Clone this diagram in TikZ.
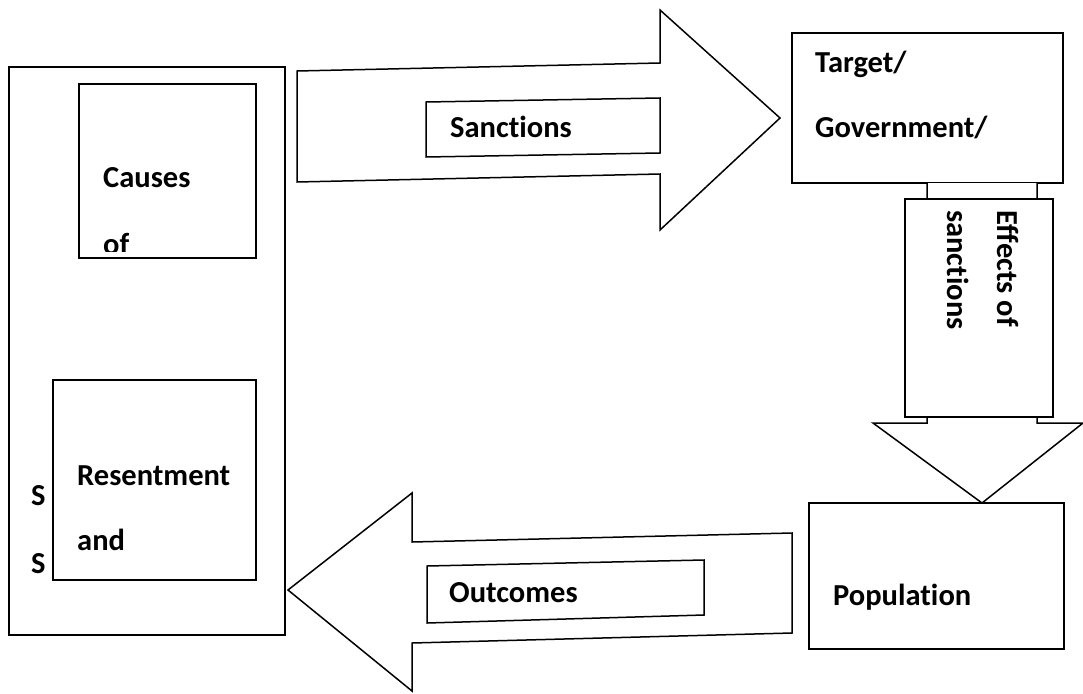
\documentclass[tikz,border=0pt]{standalone}
\usepackage{fontspec}
\setmainfont{Carlito}[Ligatures={NoCommon}]
\begin{document}
\begin{tikzpicture}[x=1pt,y=-1pt,
  box/.style={draw=black,line width=1.7pt,fill=white},
  blockarrow/.style={draw=black,line width=1.5pt,fill=white,line join=miter},
  lbl/.style={inner sep=0pt,anchor=base west,font=\fontsize{30.5}{36}\selectfont\bfseries}]
\useasboundingbox (0,0) rectangle (1083,693);
% left outer box
\draw[box] (9,67) rectangle (285,635);
\node[lbl] (s1) at (31,505) {S};
\node[lbl] (s2) at (31,573) {S};
% causes box
\draw[box] (79,84) rectangle (256,258);
\node[lbl] (causes) at (103,187) {Causes};
\begin{scope}
  \clip (79,84) rectangle (256,251);
  \node[lbl] (of) at (103,254) {of};
\end{scope}
% resentment box
\draw[box] (53,380) rectangle (256,580);
\node[lbl] (res) at (77,485) {Resentment};
\node[lbl] (and) at (77,550) {and};
% Sanctions arrow
\draw[blockarrow] (297,71) -- (660,63) -- (660,10) -- (780,118) -- (660,230) -- (660,174) -- (297,182) -- cycle;
\draw[box,line width=1.5pt] (426,102) -- (660,98) -- (660,153) -- (426,157) -- cycle;
\node[lbl] (sanc) at (450,137) {Sanctions};
% Target box
\draw[box] (792,33) rectangle (1063,183);
\node[lbl] (target) at (815,72) {Target/};
\node[lbl] (gov) at (815,137) {Government/};
% Effects arrow (down)
\draw[blockarrow] (927,183) -- (927,423) -- (873,423) -- (982,503) -- (1083,423) -- (1037,423) -- (1037,183);
\draw[box,line width=1.5pt] (905,199) rectangle (1053,417);
\node[lbl,rotate=-90] (eff1) at (997,210) {Effects of};
\node[lbl,rotate=-90] (eff2) at (947,210) {sanctions};
% Population box
\draw[box] (809,503) rectangle (1064,649);
\node[lbl] (pop) at (833,605) {Population};
% Outcomes arrow (left)
\draw[blockarrow] (792,533) -- (412,542) -- (412,493) -- (288,590) -- (412,691) -- (412,643) -- (792,633) -- cycle;
\draw[box,line width=1.5pt] (427,566) -- (704,560) -- (704,615) -- (427,623) -- cycle;
\node[lbl] (out) at (449,602) {Outcomes};
\end{tikzpicture}
\end{document}
